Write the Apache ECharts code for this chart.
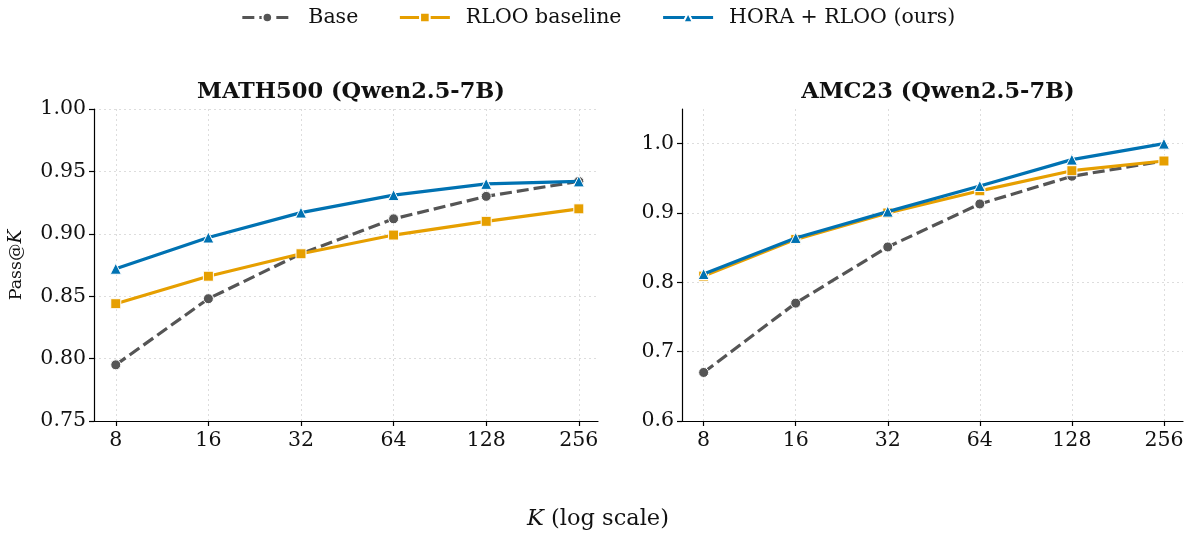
<!DOCTYPE html>
<html>
<head>
<meta charset="utf-8">
<script src="https://cdn.jsdelivr.net/npm/echarts@6/dist/echarts.min.js"></script>
<style>
html,body{margin:0;padding:0;background:#fff;}
#chart{width:1196px;height:536px;}
</style>
</head>
<body>
<div id="chart"></div>
<script>
// ---- data ----
const K = [8, 16, 32, 64, 128, 256];
const mathBase = [0.795, 0.848, 0.884, 0.912, 0.930, 0.942];
const mathRloo = [0.844, 0.866, 0.884, 0.899, 0.910, 0.920];
const mathHora = [0.872, 0.897, 0.917, 0.931, 0.940, 0.942];
const amcBase = [0.670, 0.770, 0.851, 0.913, 0.953, 0.975];
const amcRloo = [0.809, 0.862, 0.900, 0.932, 0.961, 0.975];
const amcHora = [0.812, 0.864, 0.902, 0.939, 0.977, 1.000];
const leftYTicks = [0.75, 0.80, 0.85, 0.90, 0.95, 1.00];
const rightYTicks = [0.6, 0.7, 0.8, 0.9, 1.0];
const titles = ['MATH500 (Qwen2.5-7B)', 'AMC23 (Qwen2.5-7B)'];
const names = ['Base', 'RLOO baseline', 'HORA + RLOO (ours)'];

const FONT = 'DejaVu Serif';
const colors = ['#555555', '#E69F00', '#0072B2'];
const symbols = ['circle', 'rect', 'triangle'];
const symSizes = [10, 10, 11];

const pairs = vals => K.map((k, i) => [k, vals[i]]);

const chart = echarts.init(document.getElementById('chart'));

function xAxis(gridIndex) {
  return {
    type: 'log', logBase: 2, gridIndex,
    min: 8 * Math.pow(2, -0.235), max: 256 * Math.pow(2, 0.207),
    axisLine: {show: true, lineStyle: {color: '#000', width: 1.2}},
    axisTick: {show: true, length: 5, lineStyle: {color: '#000', width: 1.2}, customValues: K},
    axisLabel: {customValues: K, color: '#111', fontFamily: FONT, fontSize: 20.5, margin: 9,
      formatter: v => String(Math.round(v))},
    splitLine: {show: true, lineStyle: {color: '#d9d9d9', type: [2, 3], width: 0.9}},
    minorTick: {show: false}, minorSplitLine: {show: false}
  };
}
function yAxis(gridIndex, min, max, ticks, dec, extra) {
  return Object.assign({
    type: 'value', gridIndex, min, max,
    axisLine: {show: true, lineStyle: {color: '#000', width: 1.2}},
    axisTick: {show: true, length: 5, lineStyle: {color: '#000', width: 1.2}, customValues: ticks},
    axisLabel: {customValues: ticks, color: '#111', fontFamily: FONT, fontSize: 20.5, margin: 8,
      formatter: v => v.toFixed(dec)},
    splitLine: {show: true, lineStyle: {color: '#d9d9d9', type: [2, 3], width: 0.9}}
  }, extra || {});
}

const seriesData = [[mathBase, mathRloo, mathHora], [amcBase, amcRloo, amcHora]];
const series = [];
for (let g = 0; g < 2; g++) {
  for (let s = 0; s < 3; s++) {
    series.push({
      name: names[s], type: 'line', xAxisIndex: g, yAxisIndex: g,
      data: pairs(seriesData[g][s]),
      smooth: false,
      symbol: symbols[s], symbolSize: symSizes[s],
      showAllSymbol: true,
      lineStyle: {color: colors[s], width: 3.2, type: s === 0 ? [12, 5] : 'solid'},
      itemStyle: {color: colors[s], borderColor: '#fff', borderWidth: 1},
      emphasis: {disabled: true},
      animation: false, z: 2 + s
    });
  }
}

chart.setOption({
  animation: false,
  backgroundColor: '#fff',
  textStyle: {fontFamily: FONT},
  title: [
    {text: titles[0], left: 346, top: 76, textAlign: 'center',
      textStyle: {fontFamily: FONT, fontWeight: 'bold', fontSize: 22.5, color: '#111'}},
    {text: titles[1], left: 933, top: 76, textAlign: 'center',
      textStyle: {fontFamily: FONT, fontWeight: 'bold', fontSize: 22.5, color: '#111'}}
  ],
  legend: {
    data: names, top: 2, left: 'center', itemWidth: 50, itemHeight: 12, itemGap: 40,
    lineStyle: {width: 3.2},
    textStyle: {fontFamily: FONT, fontSize: 20.5, color: '#111', padding: [0, 0, 0, 11]},
    selectedMode: false
  },
  grid: [
    {left: 94, top: 109, width: 504, height: 312},
    {left: 682, top: 109, width: 501, height: 312}
  ],
  xAxis: [xAxis(0), xAxis(1)],
  yAxis: [
    yAxis(0, 0.75, 1.0, leftYTicks, 2, {
      name: '{a|Pass@}{b|K}', nameLocation: 'middle', nameGap: 68, nameRotate: 90,
      nameTextStyle: {rich: {a: {fontFamily: FONT, fontSize: 17.5, color: '#111'},
        b: {fontFamily: FONT, fontSize: 18.5, fontStyle: 'italic', color: '#111'}}}
    }),
    yAxis(1, 0.6, 1.05, rightYTicks, 1)
  ],
  graphic: [{
    type: 'text', left: 'center', top: 508,
    style: {
      text: '{b|K}{a| (log scale)}',
      rich: {a: {fontFamily: FONT, fontSize: 22.5, fill: '#111'},
        b: {fontFamily: FONT, fontSize: 22.5, fontStyle: 'italic', fill: '#111'}}
    }
  }],
  series
});
</script>
</body>
</html>
